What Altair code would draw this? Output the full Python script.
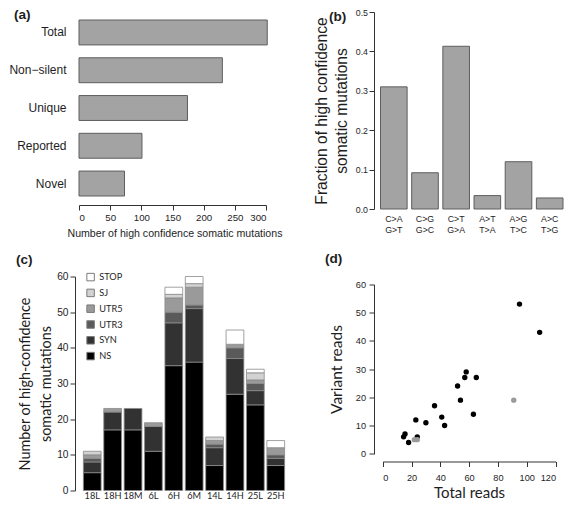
import altair as alt
import pandas as pd

FONT = "Liberation Sans"
FONT2 = "Lato"
TXT = "#1e1e1e"
BAR_FILL = "#a3a3a3"
BAR_EDGE = "#5e5e5e"

# ---- panel tags
panel_tags = ["(a)", "(b)", "(c)", "(d)"]

# ---- panel (a)
a_categories = ["Total", "Non\u2212silent", "Unique", "Reported", "Novel"]
a_counts = [302, 230, 174, 101, 73]
a_ticks = [0, 50, 100, 150, 200, 250, 300]

# ---- panel (b)
b_subs = ["C>A|G>T", "C>G|G>C", "C>T|G>A", "A>T|T>A", "A>G|T>C", "A>C|T>G"]
b_fracs = [0.31, 0.092, 0.413, 0.034, 0.12, 0.028]
b_ticks = [0.0, 0.1, 0.2, 0.3, 0.4, 0.5]

# ---- panel (c)
samples = ["18L", "18H", "18M", "6L", "6H", "6M", "14L", "14H", "25L", "25H"]
ns_counts = [5, 17, 17, 11, 35, 36, 7, 27, 24, 7]
syn_counts = [3, 5, 6, 7, 12, 15, 5, 10, 4, 2]
utr3_counts = [1, 0, 0, 0, 3, 1, 1, 3, 2, 1]
utr5_counts = [1, 1, 0, 1, 4, 5, 1, 1, 1, 2]
sj_counts = [1, 0, 0, 0, 1, 1, 1, 0, 2, 0]
stop_counts = [0, 0, 0, 0, 2, 2, 0, 4, 1, 2]
c_classes = ["NS", "SYN", "UTR3", "UTR5", "SJ", "STOP"]
legend_order = ["STOP", "SJ", "UTR5", "UTR3", "SYN", "NS"]
legend_colors = ["#ffffff", "#d2d2d2", "#9a9a9a", "#5a5a5a", "#323232", "#000000"]
c_ticks = [0, 10, 20, 30, 40, 50, 60]

# ---- panel (d)
total_reads = [14.5, 15.5, 18, 23, 24, 30, 36, 41, 43, 52, 54, 57, 58, 63, 65, 95, 109, 22, 24, 91]
variant_reads = [6, 7, 4, 12, 6, 11, 17, 13, 10, 24, 19, 27, 29, 14, 27, 53, 43, 5, 5, 19]
d_groups = ["black"] * 17 + ["grey"] * 3
d_xticks = [0, 20, 40, 60, 80, 100, 120]
d_yticks = [0, 10, 20, 30, 40, 50, 60]


def tag(i, dx, dy):
    return alt.Chart(pd.DataFrame({"tag": [panel_tags[i]]})).mark_text(
        align="left", baseline="middle", fontSize=13.6, fontWeight="bold",
        font=FONT, color=TXT
    ).encode(text="tag:N", x=alt.value(dx), y=alt.value(dy))


df_a = pd.DataFrame({"category": a_categories, "count": a_counts})
pa_bars = alt.Chart(df_a).mark_bar(fill=BAR_FILL, stroke=BAR_EDGE, strokeWidth=1).encode(
    x=alt.X("count:Q", scale=alt.Scale(domain=[0, 300], range=[0, 187], nice=False),
            axis=alt.Axis(values=a_ticks, title="Number of high confidence somatic mutations",
                          tickSize=5, labelFontSize=9.7, labelPadding=2,
                          titleFontSize=10.6, titlePadding=7, titleAnchor="start",
                          titleX=-12)),
    y=alt.Y("category:N", sort=a_categories,
            scale=alt.Scale(range=[8, 184], paddingInner=0.34, paddingOuter=0),
            axis=alt.Axis(title=None, domain=False, ticks=False, labelFontSize=12,
                          labelPadding=13)),
)
pa = alt.layer(pa_bars, tag(0, -65, 3)).properties(width=210, height=193)

df_b = pd.DataFrame({"sub": b_subs, "frac": b_fracs})
pb_bars = alt.Chart(df_b).mark_bar(fill=BAR_FILL, stroke=BAR_EDGE, strokeWidth=1).encode(
    x=alt.X("sub:N", sort=b_subs,
            scale=alt.Scale(range=[6.5, 189], paddingInner=0.146, paddingOuter=0),
            axis=alt.Axis(title=None, domain=False, ticks=False, tickSize=0, labelAngle=0,
                          labelExpr="split(datum.value, '|')", labelFontSize=8.8,
                          labelLineHeight=11.7, labelPadding=5, labelOverlap=False)),
    y=alt.Y("frac:Q", scale=alt.Scale(domain=[0, 0.5], nice=False),
            axis=alt.Axis(values=b_ticks, format=".1f", tickSize=5, labelFontSize=8.8,
                          labelPadding=1.5,
                          title=["Fraction of high confidence", "somatic mutations"],
                          titleFontSize=15.6, titleLineHeight=19.5, titlePadding=6)),
)
pb = alt.layer(pb_bars, tag(1, -45, 5)).properties(width=190, height=197)

rows = []
for cls, vals in zip(c_classes, [ns_counts, syn_counts, utr3_counts, utr5_counts, sj_counts, stop_counts]):
    for s, v in zip(samples, vals):
        if v > 0:
            rows.append({"sample": s, "class": cls, "count": v, "ord": c_classes.index(cls)})
df_c = pd.DataFrame(rows)
pc_bars = alt.Chart(df_c).mark_bar(stroke="#8a8a8a", strokeWidth=0.8).encode(
    x=alt.X("sample:N", sort=samples,
            scale=alt.Scale(paddingInner=0.13, paddingOuter=0.215),
            axis=alt.Axis(title=None, domain=False, ticks=False, tickSize=0, labelAngle=0,
                          labelFontSize=9.2, labelFont=FONT2, labelPadding=1)),
    y=alt.Y("count:Q", stack="zero", scale=alt.Scale(domain=[0, 60], nice=False),
            axis=alt.Axis(values=c_ticks, offset=4, tickSize=5, labelFontSize=10.2,
                          labelPadding=2,
                          title=["Number of high-confidence", "somatic mutations"],
                          titleFont=FONT2, titleFontSize=14.4, titleLineHeight=21.4,
                          titlePadding=3)),
    color=alt.Color("class:N", scale=alt.Scale(domain=legend_order, range=legend_colors),
                    legend=alt.Legend(title=None, orient="none", legendX=7, legendY=-4,
                                      symbolType="square", symbolSize=56,
                                      symbolStrokeColor="#7a7a7a", symbolStrokeWidth=1,
                                      labelFontSize=9.2, labelFont=FONT2, labelColor=TXT,
                                      rowPadding=2.8, padding=0)),
    order=alt.Order("ord:Q", sort="ascending"),
)
pc = alt.layer(pc_bars, tag(2, -63, -17)).properties(width=210, height=214)

df_d = pd.DataFrame({"total": total_reads, "variant": variant_reads, "group": d_groups})
pd_pts = alt.Chart(df_d).mark_circle(size=29, opacity=1).encode(
    x=alt.X("total:Q", scale=alt.Scale(domain=[0, 120], range=[8.7, 181.5], nice=False),
            axis=alt.Axis(values=d_xticks, tickSize=5, labelPadding=7, labelFontSize=9.2,
                          title="Total reads", titleFont=FONT2, titleFontSize=15,
                          titlePadding=3)),
    y=alt.Y("variant:Q", scale=alt.Scale(domain=[0, 60], range=[177.3, 7.8], nice=False),
            axis=alt.Axis(values=d_yticks, tickSize=5, labelPadding=3.5, labelFontSize=9.2,
                          title="Variant reads", titleFont=FONT2, titleFontSize=15.5,
                          titlePadding=11)),
    color=alt.Color("group:N", scale=alt.Scale(domain=["black", "grey"],
                                               range=["#000000", "#9a9a9a"]), legend=None),
)
pdd = alt.layer(pd_pts, tag(3, -49, -18)).properties(width=190, height=185)

chart = alt.concat(pa, pb, pc, pdd, columns=2, spacing={"row": 67.5, "column": 85},
                   bounds="flush").resolve_scale(
    color="independent"
).properties(padding=0).configure(font=FONT).configure_view(stroke=None).configure_axis(
    grid=False, domainColor="#333333", tickColor="#333333", labelColor=TXT,
    titleColor=TXT, titleFontWeight="normal", labelFont=FONT, titleFont=FONT,
    domainWidth=1, tickWidth=1
)

chart.save("out.html", embed_options={"renderer": "svg", "actions": False})
